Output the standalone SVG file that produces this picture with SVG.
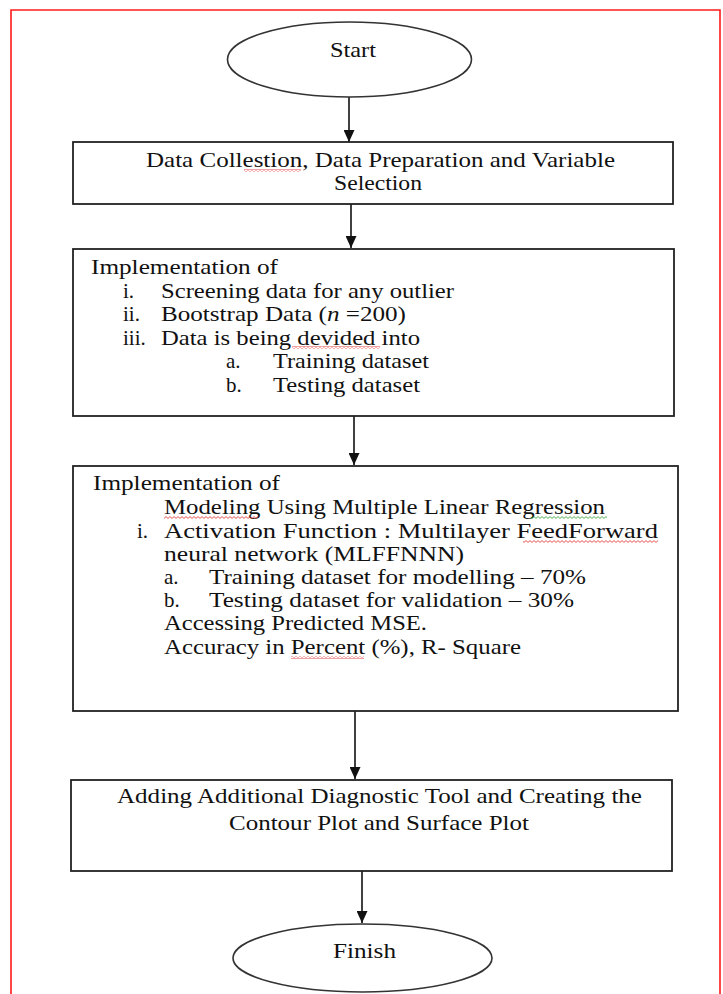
<svg xmlns="http://www.w3.org/2000/svg" width="723" height="994" viewBox="0 0 723 994">
  <style>
    .frame { fill: none; stroke: #ff1a1a; stroke-width: 1.6; }
    .box { fill: #ffffff; stroke: #222222; stroke-width: 1.8; }
    .term { fill: #ffffff; stroke: #333333; stroke-width: 1.6; }
    .edge { fill: none; stroke: #111111; stroke-width: 1.6; }
    text { font-family: "Liberation Serif", "Times New Roman", serif; font-size: 21px; fill: #111111; }
    .mid { text-anchor: middle; }
  </style>
  <defs>
    <marker id="arrow" markerUnits="userSpaceOnUse" markerWidth="12" markerHeight="11" refX="12" refY="5.5" orient="auto">
      <path d="M0,0 L12,5.5 L0,11 z" fill="#111111"/>
    </marker>
    <!-- wavy proofing underlines -->
    <pattern id="wave-red" width="4" height="3" patternUnits="userSpaceOnUse">
      <path d="M0,2.4 L2,0.6 L4,2.4" fill="none" stroke="#e02828" stroke-width="0.8"/>
    </pattern>
    <pattern id="wave-green" width="4" height="3" patternUnits="userSpaceOnUse">
      <path d="M0,2.4 L2,0.6 L4,2.4" fill="none" stroke="#2f9a2f" stroke-width="0.8"/>
    </pattern>
  </defs>

  <rect width="723" height="994" fill="#ffffff"/>
  <path class="frame" d="M11,994 V10 H720 V994"/>

  <g id="connectors">
    <path class="edge" d="M349,97 V142" marker-end="url(#arrow)"/>
    <path class="edge" d="M351,204 V248" marker-end="url(#arrow)"/>
    <path class="edge" d="M354,416 V465" marker-end="url(#arrow)"/>
    <path class="edge" d="M355,711 V779" marker-end="url(#arrow)"/>
    <path class="edge" d="M362,871 V923" marker-end="url(#arrow)"/>
  </g>

  <g id="start">
    <ellipse class="term" cx="349.5" cy="59.5" rx="122" ry="37.5"/>
    <text x="330" y="57" textLength="46" lengthAdjust="spacingAndGlyphs">Start</text>
  </g>

  <g id="data-collection">
    <rect class="box" x="73" y="142" width="600" height="62"/>
    <text x="146" y="167" textLength="469" lengthAdjust="spacingAndGlyphs">Data Collestion, Data Preparation and Variable</text>
    <text x="334" y="190" textLength="88" lengthAdjust="spacingAndGlyphs">Selection</text>
    <rect x="244" y="169" width="57" height="3" fill="url(#wave-red)"/>
  </g>

  <g id="preprocessing">
    <rect class="box" x="73" y="249" width="601" height="167"/>
    <text x="91" y="274" textLength="187" lengthAdjust="spacingAndGlyphs">Implementation of</text>
    <text x="123" y="298">i.</text>
    <text x="161" y="298" textLength="293" lengthAdjust="spacingAndGlyphs">Screening data for any outlier</text>
    <text x="123" y="321">ii.</text>
    <text x="161" y="321" textLength="245" lengthAdjust="spacingAndGlyphs">Bootstrap Data (<tspan font-style="italic">n</tspan> =200)</text>
    <text x="123" y="345">iii.</text>
    <text x="161" y="345" textLength="259" lengthAdjust="spacingAndGlyphs">Data is being devided into</text>
    <text x="226" y="368">a.</text>
    <text x="273" y="368" textLength="156" lengthAdjust="spacingAndGlyphs">Training dataset</text>
    <text x="226" y="392">b.</text>
    <text x="273" y="392" textLength="147" lengthAdjust="spacingAndGlyphs">Testing dataset</text>
    <rect x="292" y="346" width="88" height="3" fill="url(#wave-red)"/>
  </g>

  <g id="modeling">
    <rect class="box" x="73" y="466" width="605" height="245"/>
    <text x="93" y="490" textLength="187" lengthAdjust="spacingAndGlyphs">Implementation of</text>
    <text x="164" y="514" textLength="441" lengthAdjust="spacingAndGlyphs">Modeling Using Multiple Linear Regression</text>
    <text x="137" y="538">i.</text>
    <text x="164" y="538" textLength="494" lengthAdjust="spacingAndGlyphs">Activation Function : Multilayer FeedForward</text>
    <text x="164" y="561" textLength="300" lengthAdjust="spacingAndGlyphs">neural network (MLFFNNN)</text>
    <text x="164" y="584">a.</text>
    <text x="209" y="584" textLength="377" lengthAdjust="spacingAndGlyphs">Training dataset for modelling – 70%</text>
    <text x="164" y="607">b.</text>
    <text x="209" y="607" textLength="365" lengthAdjust="spacingAndGlyphs">Testing dataset for validation – 30%</text>
    <text x="164" y="630" textLength="263" lengthAdjust="spacingAndGlyphs">Accessing Predicted MSE.</text>
    <text x="164" y="654" textLength="357" lengthAdjust="spacingAndGlyphs">Accuracy in Percent (%), R- Square</text>
    <rect x="164" y="516" width="94" height="3" fill="url(#wave-red)"/>
    <rect x="531" y="516" width="76" height="3" fill="url(#wave-green)"/>
    <rect x="523" y="540" width="135" height="3" fill="url(#wave-red)"/>
    <rect x="291" y="656" width="73" height="3" fill="url(#wave-red)"/>
  </g>

  <g id="diagnostics">
    <rect class="box" x="71" y="780" width="601" height="91"/>
    <text x="117" y="803" textLength="525" lengthAdjust="spacingAndGlyphs">Adding Additional Diagnostic Tool and Creating the</text>
    <text x="229" y="830" textLength="300" lengthAdjust="spacingAndGlyphs">Contour Plot and Surface Plot</text>
  </g>

  <g id="finish">
    <ellipse class="term" cx="362.5" cy="958" rx="129.5" ry="34"/>
    <text x="333" y="958" textLength="63" lengthAdjust="spacingAndGlyphs">Finish</text>
  </g>
</svg>
